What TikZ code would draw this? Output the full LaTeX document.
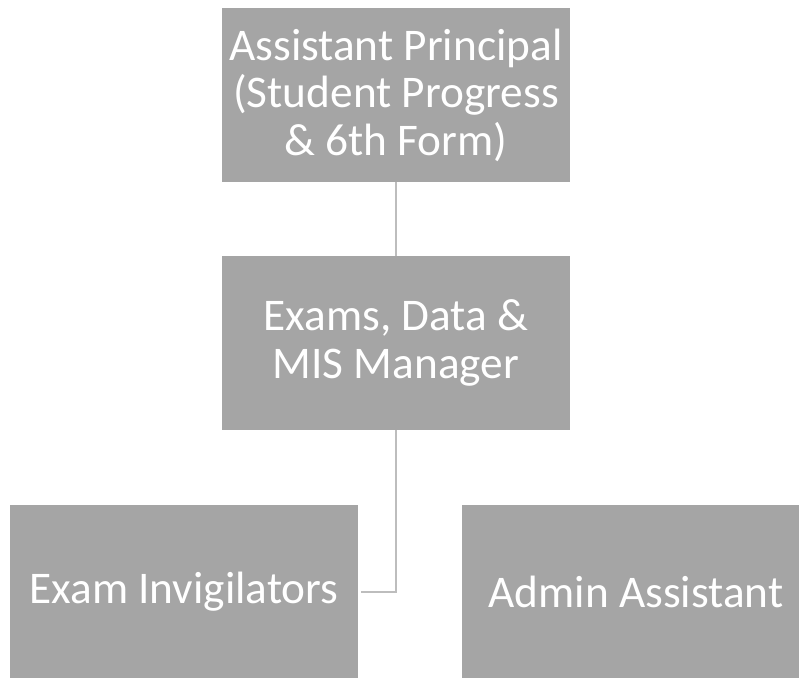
\documentclass[tikz,border=0pt]{standalone}
\usepackage{fontspec}
\setmainfont{Carlito}
\usepackage{xcolor}
\definecolor{boxgray}{HTML}{A5A5A5}
\definecolor{linegray}{HTML}{BDBDBD}

\begin{document}
\begin{tikzpicture}[x=1pt,y=-1pt]
	\tikzset{box/.style = {shape=rectangle,fill=boxgray,text=white,
			minimum width=348pt,minimum height=174pt,inner sep=0pt,
			align=center,font=\fontsize{45.3}{47.5}\selectfont}}
	\tikzset{edge/.style = {draw=linegray,line width=2.7pt}}
	\useasboundingbox (0,0) rectangle (799,677);
    % boxes
    \node[box] (ap) at (396,95) {Assistant Principal\\(Student Progress\\\& 6th Form)};
    \node[box] (exams) at (396,343) {Exams, Data \&\\MIS Manager};
    \node[box] (inv) at (184,592) {Exam Invigilators};
    \node[box] (admin) at (636,592) {Admin Assistant};
    % lines
    \draw[edge] (ap.south) -- (exams.north);
    \draw[edge] (exams.south) |- ([xshift=3pt]inv.east);
\end{tikzpicture}
\end{document}
